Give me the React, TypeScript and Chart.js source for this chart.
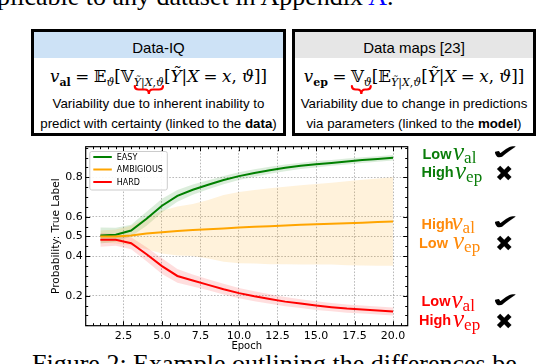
import React, { useEffect, useLayoutEffect, useRef, useState } from "react";
import { Chart, registerables } from "chart.js";
Chart.register(...registerables);

// ---------- data ----------
const epochs = [1, 2, 3, 4, 5, 6, 7, 8, 9, 10, 11, 12, 13, 14, 15, 16, 17, 18, 19, 20];
const easyMean = [0.505, 0.509, 0.53, 0.59, 0.656, 0.706, 0.737, 0.762, 0.786, 0.806, 0.822, 0.836, 0.848, 0.858, 0.866, 0.873, 0.88, 0.887, 0.893, 0.899];
const easyStd = [0.04, 0.035, 0.03, 0.035, 0.035, 0.03, 0.026, 0.023, 0.021, 0.02, 0.019, 0.018, 0.017, 0.016, 0.016, 0.015, 0.015, 0.015, 0.014, 0.014];
const ambigMean = [0.5, 0.5, 0.505, 0.515, 0.522, 0.528, 0.533, 0.537, 0.541, 0.545, 0.549, 0.552, 0.556, 0.559, 0.562, 0.565, 0.567, 0.57, 0.573, 0.576];
const ambigStd = [0.03, 0.035, 0.05, 0.08, 0.108, 0.124, 0.132, 0.148, 0.169, 0.18, 0.186, 0.193, 0.196, 0.201, 0.204, 0.207, 0.213, 0.217, 0.221, 0.224];
const hardMean = [0.483, 0.483, 0.466, 0.41, 0.35, 0.3, 0.277, 0.255, 0.233, 0.213, 0.197, 0.183, 0.17, 0.16, 0.15, 0.142, 0.135, 0.13, 0.125, 0.12];
const hardStd = [0.035, 0.03, 0.03, 0.035, 0.04, 0.035, 0.03, 0.028, 0.027, 0.026, 0.025, 0.024, 0.023, 0.022, 0.022, 0.021, 0.021, 0.02, 0.02, 0.02];
const seriesLabels = ["EASY", "AMBIGIOUS", "HARD"];
const xTicks = [2.5, 5, 7.5, 10, 12.5, 15, 17.5, 20];
const yTicks = [0.2, 0.4, 0.5, 0.6, 0.8];

const lineColors = ["#008000", "#FFA500", "#FF0000"];
const bandColors = ["rgba(0,128,0,0.14)", "rgba(255,165,0,0.14)", "rgba(255,0,0,0.13)"];

const pts = (ys: number[]) => epochs.map((e, i) => ({ x: e, y: ys[i] }));

const framePlugin = {
  id: "frameTicks",
  afterDraw(chart: any) {
    const { ctx, chartArea: a, scales } = chart;
    const xs = scales.x;
    const ys = scales.y;
    ctx.save();
    ctx.strokeStyle = "#000";
    ctx.lineWidth = 1;
    const seg = (x1: number, y1: number, x2: number, y2: number) => {
      ctx.beginPath();
      ctx.moveTo(x1, y1);
      ctx.lineTo(x2, y2);
      ctx.stroke();
    };
    for (let k = 1; k <= 41; k++) {
      const v = k * 0.5;
      if (v < xs.min || v > xs.max) continue;
      const major = xTicks.includes(v);
      const len = major ? 4.5 : 2.5;
      const px = Math.round(xs.getPixelForValue(v)) + 0.5;
      seg(px, a.bottom, px, a.bottom - len);
      seg(px, a.top, px, a.top + len);
    }
    for (let k = 1; k <= 19; k++) {
      const v = Math.round(k * 5) / 100;
      if (v < ys.min || v > ys.max) continue;
      const major = yTicks.some((t) => Math.abs(t - v) < 1e-6);
      const len = major ? 4.5 : 2.5;
      const py = Math.round(ys.getPixelForValue(v)) + 0.5;
      seg(a.left, py, a.left + len, py);
      seg(a.right, py, a.right - len, py);
    }
    ctx.lineWidth = 1.2;
    ctx.strokeRect(a.left, a.top, a.right - a.left, a.bottom - a.top);
    ctx.restore();
  },
};

const legendPlugin = {
  id: "innerLegend",
  afterDraw(chart: any) {
    const { ctx, chartArea: a } = chart;
    ctx.save();
    ctx.font = "8px 'DejaVu Sans'";
    const lx = a.left + 3.6;
    const ly = a.top + 4.3;
    let tw = 0;
    seriesLabels.forEach((l) => (tw = Math.max(tw, ctx.measureText(l).width)));
    const w = 27.5 + tw + 4;
    const h = 38.5;
    ctx.fillStyle = "rgba(255,255,255,0.9)";
    ctx.strokeStyle = "#cccccc";
    ctx.lineWidth = 1;
    ctx.beginPath();
    (ctx as any).roundRect(lx + 0.5, ly + 0.5, w, h, 2);
    ctx.fill();
    ctx.stroke();
    seriesLabels.forEach((l, i) => {
      const yy = ly + 6 + i * 12.5;
      ctx.strokeStyle = lineColors[i];
      ctx.lineWidth = 2;
      ctx.beginPath();
      ctx.moveTo(lx + 4, yy);
      ctx.lineTo(lx + 22.5, yy);
      ctx.stroke();
      ctx.fillStyle = "#000";
      ctx.textBaseline = "middle";
      ctx.fillText(l, lx + 27.5, yy + 0.5);
    });
    ctx.restore();
  },
};

function ChartCanvas() {
  const ref = useRef<HTMLCanvasElement | null>(null);
  useEffect(() => {
    if (!ref.current) return;
    const means = [easyMean, ambigMean, hardMean];
    const stds = [easyStd, ambigStd, hardStd];
    const datasets: any[] = [];
    means.forEach((m, i) => {
      const lower = m.map((v, j) => v - stds[i][j]);
      const upper = m.map((v, j) => v + stds[i][j]);
      datasets.push({
        label: seriesLabels[i] + " lower",
        data: pts(lower),
        borderColor: "transparent",
        borderWidth: 0,
        pointRadius: 0,
        fill: false,
        order: 20 - i * 2,
      });
      datasets.push({
        label: seriesLabels[i] + " upper",
        data: pts(upper),
        borderColor: "transparent",
        borderWidth: 0,
        pointRadius: 0,
        backgroundColor: bandColors[i],
        fill: "-1",
        order: 19 - i * 2,
      });
    });
    means.forEach((m, i) => {
      datasets.push({
        label: seriesLabels[i],
        data: pts(m),
        borderColor: lineColors[i],
        borderWidth: 2,
        pointRadius: 0,
        fill: false,
        tension: 0,
        order: 3 - i,
      });
    });
    const font = { family: "'DejaVu Sans'", size: 11 };
    const chart = new Chart(ref.current, {
      type: "line",
      data: { datasets },
      options: {
        animation: false,
        responsive: false,
        devicePixelRatio: 1,
        layout: { padding: { left: 40, top: 146.7, right: 128.3, bottom: 0 } },
        plugins: { legend: { display: false }, tooltip: { enabled: false } },
        scales: {
          x: {
            type: "linear",
            min: 0.05,
            max: 20.95,
            afterBuildTicks: (s: any) => {
              s.ticks = xTicks.map((v) => ({ value: v }));
            },
            afterFit: (s: any) => {
              s.height = 38.3;
            },
            ticks: {
              callback: (v: any) => Number(v).toFixed(1),
              color: "#000",
              font,
              padding: 4,
              maxRotation: 0,
              autoSkip: false,
            },
            grid: { color: "rgba(0,0,0,0.35)", lineWidth: 0.8, drawTicks: false },
            border: { display: false, dash: [1.6, 1.6] },
            title: {
              display: true,
              text: "Epoch",
              color: "#000",
              font: { family: "'DejaVu Sans'", size: 10 },
              padding: { top: 0, bottom: 12 },
            },
          },
          y: {
            type: "linear",
            min: 0.048,
            max: 0.955,
            afterBuildTicks: (s: any) => {
              s.ticks = yTicks.map((v) => ({ value: v }));
            },
            afterFit: (s: any) => {
              s.width = 45.7;
            },
            ticks: {
              callback: (v: any) => Number(v).toFixed(1),
              color: "#000",
              font,
              padding: 3,
              autoSkip: false,
            },
            grid: { color: "rgba(0,0,0,0.35)", lineWidth: 0.8, drawTicks: false },
            border: { display: false, dash: [1.6, 1.6] },
            title: {
              display: true,
              text: "Probability: True Label",
              color: "#000",
              font: { family: "'DejaVu Sans'", size: 10.5 },
              padding: { top: 9.5, bottom: 0 },
            },
          },
        },
      },
      plugins: [framePlugin, legendPlugin],
    } as any);
    return () => chart.destroy();
  }, []);
  return (
    <canvas
      ref={ref}
      width={536}
      height={364}
      style={{ position: "absolute", left: 0, top: 0, width: 536, height: 364 }}
    />
  );
}

// ---------- overlay helpers ----------
const SANS = "'Liberation Sans', Arial, sans-serif";
const SERIF = "'Liberation Serif', 'DejaVu Serif', serif";
const MATH = "'DejaVu Serif', 'Liberation Serif', serif";

function T(props: {
  x: number;
  b: number;
  size: number;
  family?: string;
  color?: string;
  bold?: boolean;
  italic?: boolean;
  center?: boolean;
  w?: number;
  children: React.ReactNode;
}) {
  const { x, b, size, family = SANS, color = "#000", bold, italic, center, w, children } = props;
  const style: React.CSSProperties = {
    position: "absolute",
    top: b - 0.845 * size,
    left: x,
    fontSize: size,
    lineHeight: size + "px",
    height: size,
    fontFamily: family,
    color,
    fontWeight: bold ? 700 : 400,
    fontStyle: italic ? "italic" : "normal",
    whiteSpace: "nowrap",
  };
  if (center) {
    style.width = w;
    style.textAlign = "center";
  }
  return <div style={style}>{children}</div>;
}

const Sub = React.forwardRef<HTMLSpanElement, { children: React.ReactNode; size?: number; dy?: number }>(
  (p, ref) => (
    <span ref={ref} style={{ fontSize: p.size ?? 12, position: "relative", top: p.dy ?? 4 }}>
      {p.children}
    </span>
  )
);

function Brace(p: { x1: number; x2: number; y0: number }) {
  const { x1, x2, y0 } = p;
  const xm = (x1 + x2) / 2;
  const y1 = y0 + 3.5;
  const y2 = y0 + 8;
  const d = `M${x1},${y0} Q${x1},${y1} ${x1 + 4},${y1} L${xm - 4},${y1} Q${xm},${y1} ${xm},${y2} Q${xm},${y1} ${xm + 4},${y1} L${x2 - 4},${y1} Q${x2},${y1} ${x2},${y0}`;
  return (
    <svg style={{ position: "absolute", left: 0, top: 0 }} width={536} height={364}>
      <path d={d} fill="none" stroke="#ff0000" strokeWidth={2.2} strokeLinecap="round" />
    </svg>
  );
}

function Box(p: { left: number; width: number; headerBg: string }) {
  return (
    <div
      style={{
        position: "absolute",
        left: p.left,
        top: 29,
        width: p.width,
        height: 107,
        border: "3px solid #000",
        boxSizing: "border-box",
        background: "#fff",
      }}
    >
      <div style={{ height: 26, background: p.headerBg }} />
    </div>
  );
}

function Mark(p: { x: number; b: number; check: boolean }) {
  return p.check ? (
    <T x={p.x} b={p.b + 1} size={34} family="'DejaVu Sans'">
      <span style={{ display: "inline-block", transform: "scale(1,0.6)", transformOrigin: "0 80%" }}>✔</span>
    </T>
  ) : (
    <T x={p.x} b={p.b + 3.5} size={22} family="'DejaVu Sans'">
      ✖
    </T>
  );
}

function Row(p: { b: number; color: string; word: string; wx: number; vx: number; sub: string; check: boolean }) {
  return (
    <>
      <T x={p.wx} b={p.b} size={14.5} bold color={p.color}>
        {p.word}
      </T>
      <T x={p.vx} b={p.b + 1} size={25} family={SERIF} italic color={p.color}>
        v
        <span style={{ fontStyle: "normal", fontSize: 17, position: "relative", top: 3 }}>{p.sub}</span>
      </T>
      <Mark x={p.check ? 491 : 495} b={p.b} check={p.check} />
    </>
  );
}

const EQ = 16.7;
const SUB = 11;
const sp = <span style={{ display: "inline-block", width: 4.5 }} />;

export default function App() {
  const leftSub = useRef<HTMLSpanElement | null>(null);
  const rightV = useRef<HTMLSpanElement | null>(null);
  const [br, setBr] = useState<{ l1: number; l2: number; r1: number; r2: number } | null>(null);
  useEffect(() => {
    document.body.style.margin = "0";
  }, []);
  useLayoutEffect(() => {
    const root = document.getElementById("fig-root");
    if (!root || !leftSub.current || !rightV.current) return;
    const o = root.getBoundingClientRect();
    const a = leftSub.current.getBoundingClientRect();
    const b = rightV.current.getBoundingClientRect();
    setBr({ l1: a.left - o.left, l2: a.right - o.left, r1: b.left - o.left, r2: b.right - o.left });
  }, []);
  return (
    <div
      id="fig-root"
      style={{
        position: "absolute",
        left: 0,
        top: 0,
        width: 536,
        height: 364,
        overflow: "hidden",
        background: "#fff",
      }}
    >
      {/* surrounding paper text */}
      <T x={-3} b={6} size={26} family={SERIF}>
        plicable to any dataset in Appendix <span style={{ color: "#0000ff" }}>A</span>.
      </T>
      <T x={32} b={373} size={26} family={SERIF}>
        Figure 2: Example outlining the differences be
      </T>

      {/* boxes */}
      <Box left={31} width={255} headerBg="#cde2f6" />
      <Box left={292} width={244} headerBg="#e6e6e6" />
      <T x={31} w={255} center b={53} size={15}>
        Data-IQ
      </T>
      <T x={292} w={244} center b={53} size={15}>
        Data maps [23]
      </T>

      <T x={31} w={255} center b={82} size={EQ} family={MATH}>
        <i>v</i>
        <Sub size={SUB}>
          <b>al</b>
        </Sub>
        {sp}={sp}𝔼
        <Sub size={SUB}>
          <i>ϑ</i>
        </Sub>
        [𝕍
        <Sub size={SUB} ref={leftSub}>
          <i>Ỹ</i>|<i>X</i>,<i>ϑ</i>
        </Sub>
        [<i>Ỹ</i>|<i>X</i>{sp}={sp}<i>x</i>, <i>ϑ</i>]]
      </T>
      <T x={292} w={244} center b={82} size={EQ} family={MATH}>
        <i>v</i>
        <Sub size={SUB}>
          <b>ep</b>
        </Sub>
        {sp}={sp}
        <span ref={rightV}>
          𝕍
          <Sub size={SUB}>
            <i>ϑ</i>
          </Sub>
        </span>
        [𝔼
        <Sub size={SUB}>
          <i>Ỹ</i>|<i>X</i>,<i>ϑ</i>
        </Sub>
        [<i>Ỹ</i>|<i>X</i>{sp}={sp}<i>x</i>, <i>ϑ</i>]]
      </T>
      {br && <Brace x1={br.l1 + 1} x2={br.l2 - 1} y0={86} />}
      {br && <Brace x1={br.r1 + 1} x2={br.r2 - 1} y0={86} />}

      <T x={31} w={255} center b={108} size={13.3}>
        Variability due to inherent inability to
      </T>
      <T x={31} w={255} center b={128} size={13.3}>
        predict with certainty (linked to the <b>data</b>)
      </T>
      <T x={292} w={244} center b={108} size={13.3}>
        Variability due to change in predictions
      </T>
      <T x={292} w={244} center b={128} size={13.3}>
        via parameters (linked to the <b>model</b>)
      </T>

      <ChartCanvas />

      {/* right-hand annotations */}
      <Row b={159} color="#0a7d0a" word="Low" wx={422.5} vx={453} sub="al" check />
      <Row b={177.7} color="#0a7d0a" word="High" wx={421.5} vx={455} sub="ep" check={false} />
      <Row b={229} color="#ff8a0a" word="High" wx={421.5} vx={451.5} sub="al" check />
      <Row b={248.3} color="#ff8a0a" word="Low" wx={419} vx={453} sub="ep" check={false} />
      <Row b={306.7} color="#ff0000" word="Low" wx={421.5} vx={451.5} sub="al" check />
      <Row b={325.7} color="#ff0000" word="High" wx={419} vx={453} sub="ep" check={false} />
    </div>
  );
}
